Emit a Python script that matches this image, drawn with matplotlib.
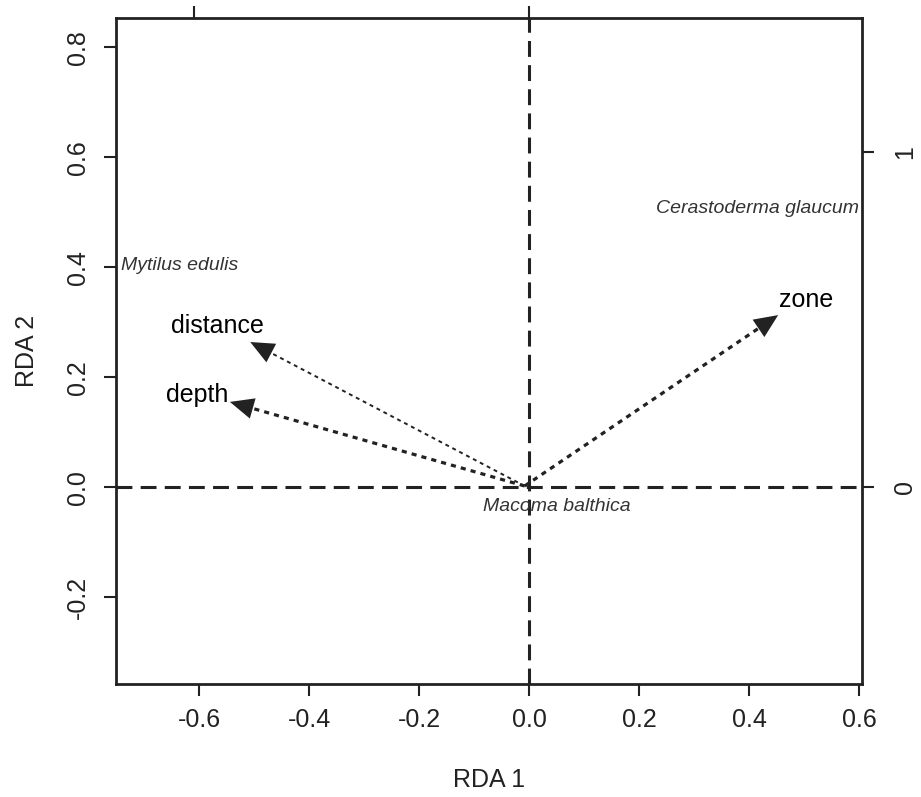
import numpy as np
import matplotlib
matplotlib.use("Agg")
import matplotlib.pyplot as plt

plt.rcParams['font.family'] = ['Liberation Sans', 'DejaVu Sans']

# --- data ---
env_names = ['distance', 'depth', 'zone']
env_x = [-0.507, -0.544, 0.453]
env_y = [0.264, 0.155, 0.313]
env_label_x = [-0.567, -0.604, 0.504]
env_label_y = [0.293, 0.167, 0.340]
env_lw = [1.4, 2.3, 2.3]
origin = (-0.008, 0.002)

species = ['Mytilus edulis', 'Cerastoderma glaucum', 'Macoma balthica']
sp_x = [-0.636, 0.415, 0.050]
sp_y = [0.404, 0.507, -0.035]

x_ticks = [-0.6, -0.4, -0.2, 0.0, 0.2, 0.4, 0.6]
y_ticks = [-0.2, 0.0, 0.2, 0.4, 0.6, 0.8]
sec_ticks_right = [0, 1]
sec_ticks_top = [-1, 0]
sec_scale = 0.609   # one species-score unit in site-axis units

dark = '#222222'

fig = plt.figure(figsize=(9.21, 7.97), dpi=100)
ax = fig.add_axes([0.126, 0.142, 0.810, 0.835])
ax.set_xlim(-0.751, 0.6055)
ax.set_ylim(-0.358, 0.853)

# zero lines
ax.axhline(0, color=dark, lw=2.2, dashes=(5.2, 2.7), zorder=1)
ax.axvline(0, color=dark, lw=2.2, dashes=(5.2, 2.7), zorder=1)

# environmental arrows
for name, x, y, lx, ly, lw in zip(env_names, env_x, env_y, env_label_x, env_label_y, env_lw):
    dx, dy = x - origin[0], y - origin[1]
    d = np.hypot(dx, dy)
    ux, uy = dx / d, dy / d
    ax.plot([origin[0], x - ux * 0.02], [origin[1], y - uy * 0.02], color=dark, lw=lw,
            dashes=(1.6, 1.6) if lw > 2 else (2.0, 2.0), solid_capstyle='butt', zorder=3)
    ax.annotate('', xy=(x, y), xytext=(x - ux * 0.01, y - uy * 0.01),
                arrowprops=dict(arrowstyle='-|>,head_length=0.95,head_width=0.42',
                                mutation_scale=18, color=dark, lw=0,
                                shrinkA=0, shrinkB=0), zorder=4)
    ax.text(lx, ly, name, fontsize=18, ha='center', va='center', color='black')

# species scores
for name, x, y in zip(species, sp_x, sp_y):
    ax.text(x, y, name, fontsize=14, style='italic', ha='center', va='center', color='#333333')

# main axes
ax.set_xticks(x_ticks)
ax.set_xticklabels([f'{v:.1f}' for v in x_ticks])
ax.set_yticks(y_ticks)
ax.set_yticklabels([f'{v:.1f}' for v in y_ticks], rotation=90, va='center')
ax.tick_params(length=8.5, width=1.5, color=dark, labelsize=18, labelcolor=dark)
ax.tick_params(axis='x', pad=9)
ax.tick_params(axis='y', pad=10)
for s in ax.spines.values():
    s.set_linewidth(2.0)
    s.set_color(dark)

ax.set_xlabel('RDA 1', fontsize=18, color=dark, labelpad=26)
ax.set_ylabel('RDA 2', fontsize=18, color=dark, labelpad=20)

# secondary axes for species scores
to_sec = lambda v: v / sec_scale
from_sec = lambda v: v * sec_scale

right = ax.secondary_yaxis('right', functions=(to_sec, from_sec))
right.set_yticks(sec_ticks_right)
right.set_yticklabels([str(v) for v in sec_ticks_right], rotation=90, va='center')
right.tick_params(length=8.5, width=1.5, color=dark, labelsize=18, labelcolor=dark, pad=14)
right.spines['right'].set_visible(False)

top = ax.secondary_xaxis('top', functions=(to_sec, from_sec))
top.set_xticks(sec_ticks_top)
top.tick_params(length=8.5, width=1.5, color=dark, labeltop=False)
top.spines['top'].set_visible(False)

fig.savefig('out.png', dpi=100)
